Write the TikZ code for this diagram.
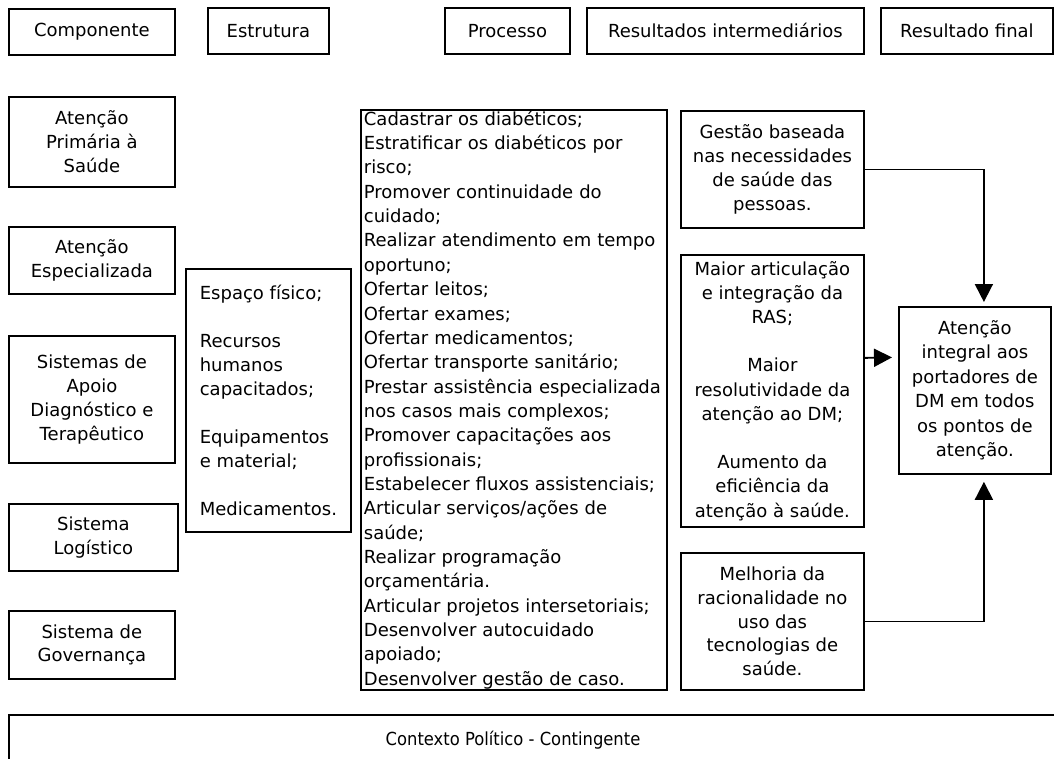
\documentclass[tikz,border=0pt]{standalone}
\usepackage{fontspec}
\setmainfont{DejaVu Sans}
\newfontfamily\ctxfont{DejaVu Sans}[FakeStretch=0.91]
\usetikzlibrary{arrows.meta}
\begin{document}
\begin{tikzpicture}[x=1pt,y=-1pt,
  box/.style={draw, line width=1.8pt, inner sep=1pt, align=center, anchor=north west,
    font=\fontsize{18}{23.8}\selectfont},
  leftbox/.style={box, align=left, inner xsep=2pt},
  conn/.style={line width=1.8pt, -{Triangle[length=18pt,width=18pt]}}
]
\useasboundingbox (0,0) rectangle (1054,758);
% headers
\node[box, minimum width=166pt, minimum height=46pt] (comp) at (8,8) {Componente};
\node[box, minimum width=121pt, minimum height=46pt] (estrh) at (207,7) {Estrutura};
\node[box, minimum width=125pt, minimum height=46pt] (proch) at (444,7) {Processo};
\node[box, minimum width=277pt, minimum height=46pt] (resih) at (586,7) {Resultados intermediários};
\node[box, minimum width=172pt, minimum height=46pt] (resfh) at (880,7) {Resultado final};
% components
\node[box, minimum width=166pt, minimum height=90pt] (aps) at (8,96) {Atenção\\Primária à\\Saúde};
\node[box, minimum width=166pt, minimum height=67pt] (ae) at (8,226) {Atenção\\Especializada};
\node[box, minimum width=166pt, minimum height=127pt] (sadt) at (8,335) {Sistemas de\\Apoio\\Diagnóstico e\\Terapêutico};
\node[box, minimum width=169pt, minimum height=67pt] (slog) at (8,503) {Sistema\\Logístico};
\node[box, minimum width=166pt, minimum height=68pt] (sgov) at (8,610) {Sistema de\\Governança};
% structure
\node[leftbox, inner xsep=9pt, minimum width=165pt, minimum height=263pt,
  font=\fontsize{18}{23.9}\selectfont] (estr) at (185,268)
  {Espaço físico;\\[23.9pt]Recursos\\humanos\\capacitados;\\[23.9pt]Equipamentos\\e material;\\[23.9pt]Medicamentos.};
% process
\node[leftbox, inner ysep=0pt, minimum width=306pt, minimum height=580pt, text width=300pt,
  font=\fontsize{18}{24.35}\selectfont] (proc) at (360,109)
  {Cadastrar os diabéticos;\\
   Estratificar os diabéticos por\\
   risco;\\
   Promover continuidade do\\
   cuidado;\\
   Realizar atendimento em tempo\\
   oportuno;\\
   Ofertar leitos;\\
   Ofertar exames;\\
   Ofertar medicamentos;\\
   Ofertar transporte sanitário;\\
   Prestar assistência especializada\\
   nos casos mais complexos;\\
   Promover capacitações aos\\
   profissionais;\\
   Estabelecer fluxos assistenciais;\\
   Articular serviços/ações de\\
   saúde;\\
   Realizar programação\\
   orçamentária.\\
   Articular projetos intersetoriais;\\
   Desenvolver autocuidado\\
   apoiado;\\
   Desenvolver gestão de caso.};
% intermediate results
\node[box, minimum width=183pt, minimum height=117pt] (gestao) at (680,110)
  {Gestão baseada\\nas necessidades\\de saúde das\\pessoas.};
\node[box, minimum width=183pt, minimum height=272pt, font=\fontsize{18}{24.2}\selectfont] (maior) at (680,254)
  {Maior articulação\\e integração da\\RAS;\\[24.2pt]Maior\\resolutividade da\\atenção ao DM;\\[24.2pt]Aumento da\\eficiência da\\atenção à saúde.};
\node[box, minimum width=183pt, minimum height=137pt] (melhoria) at (680,552)
  {Melhoria da\\racionalidade no\\uso das\\tecnologias de\\saúde.};
% final result
\node[box, minimum width=152pt, minimum height=167pt, font=\fontsize{18}{24.5}\selectfont] (final) at (898,306)
  {Atenção\\integral aos\\portadores de\\DM em todos\\os pontos de\\atenção.};
% connectors
\draw[conn] (gestao.east) -| ([xshift=9pt,yshift=4pt]final.north);
\draw[conn] ([yshift=33pt]maior.east) -- ([xshift=-6pt,yshift=33pt]final.west);
\draw[conn] (melhoria.east) -| ([xshift=9pt,yshift=-7pt]final.south);
% context
\begin{scope}
\clip (0,0) rectangle (1054,758);
\node[box, minimum width=1062pt, minimum height=60pt] (ctx) at (8,714) {};
\end{scope}
\node[font=\ctxfont\fontsize{18}{22}\selectfont] (ctxlabel) at (513,740) {Contexto Político - Contingente};
\end{tikzpicture}
\end{document}
